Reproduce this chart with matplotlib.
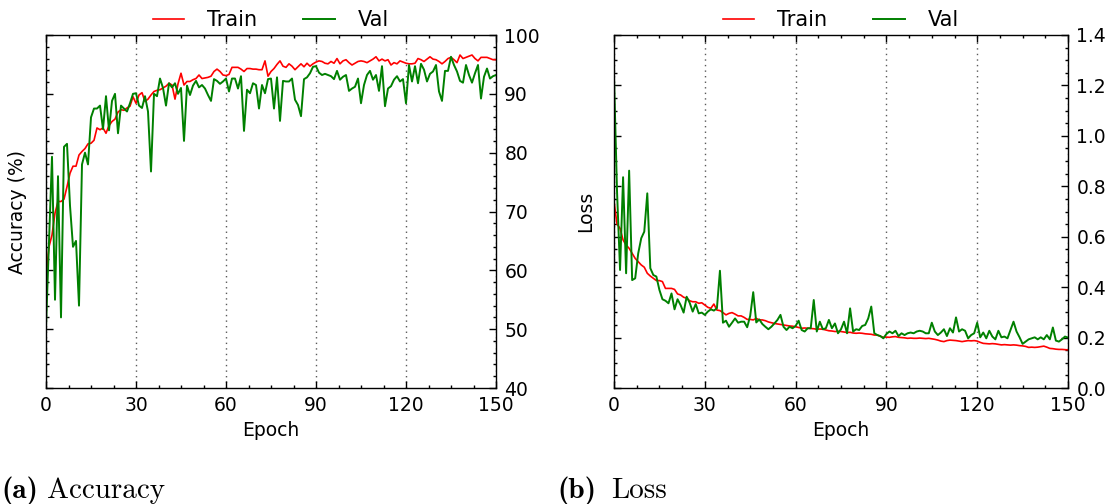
import numpy as np
import matplotlib
matplotlib.use("Agg")
import matplotlib.pyplot as plt
from matplotlib.ticker import MultipleLocator

plt.rcParams['font.family'] = ['DejaVu Sans']
plt.rcParams['mathtext.fontset'] = 'cm'

# ---- data (epochs 0..150) ----
train_acc = [59, 64, 66, 69.7, 71.7, 71.7, 72.1, 74.2, 76.5, 77.7,
             77.7, 79.6, 80.2, 80.7, 81.5, 81.6, 82.1, 84.2, 83.9, 84.2,
             83.3, 84.6, 85.3, 85.7, 86.9, 87.3, 87.2, 87.6, 87.9, 89.5,
             88.4, 89.8, 90.2, 88.7, 89.1, 89.8, 90.4, 90.6, 90.7, 91.0,
             91.3, 91.8, 91.5, 89.1, 91.7, 93.5, 91.5, 92.1, 92.1, 92.4,
             92.6, 93.2, 92.6, 92.7, 92.8, 93.0, 93.8, 94.2, 93.8, 93.2,
             93.1, 93.3, 94.5, 94.5, 94.5, 94.2, 93.8, 94.3, 94.3, 94.2,
             94.2, 94.1, 94.1, 95.6, 93.0, 93.8, 94.3, 95.0, 95.6, 94.7,
             94.5, 95.1, 94.7, 94.1, 94.6, 95.1, 94.6, 95.2, 94.7, 95.1,
             95.4, 95.6, 95.5, 95.2, 95.1, 95.5, 95.2, 96.0, 95.1, 95.6,
             95.8, 95.3, 94.9, 95.2, 95.5, 95.6, 95.5, 95.3, 95.6, 95.9,
             96.3, 95.6, 95.9, 95.6, 95.8, 94.9, 95.3, 95.1, 95.6, 95.4,
             95.2, 95.1, 95.1, 95.2, 96.0, 95.8, 95.5, 95.9, 96.3, 95.9,
             95.8, 95.5, 95.1, 95.5, 96.0, 96.2, 95.8, 95.3, 96.6, 96.0,
             96.2, 96.4, 96.6, 96.0, 95.6, 96.2, 96.2, 96.2, 96.0, 95.8,
             95.8]

val_acc = [50.4, 65, 79.3, 55, 76, 52, 81, 81.5, 71, 64,
           65, 54, 78, 80, 78, 86, 87.5, 87.5, 88, 84,
           89.6, 83.8, 88.8, 90, 83.3, 88, 87.5, 87, 88.4, 90,
           90.1, 88, 87.6, 89.6, 87, 76.8, 90, 89.6, 92.6, 91,
           88, 91.8, 91.1, 91.8, 90, 91, 82, 91.4, 89.8, 91.4,
           92.2, 91.1, 91.5, 90.9, 89.8, 88.8, 92.5, 92.2, 91.7, 92.1,
           92.6, 90.4, 92.6, 92.6, 90.9, 93, 83.7, 90.7, 90.1, 91.8,
           91.5, 87.5, 91.5, 90.1, 92.5, 92.6, 87.5, 92.8, 85.4, 92.2,
           92.1, 92.1, 92.6, 89, 88.1, 86.2, 92.5, 92.8, 93.5, 94.6,
           94.7, 93.6, 93.2, 93.4, 93.2, 93.0, 92.5, 93.9, 92.4, 92.9,
           93.2, 90.5, 90.9, 91.2, 92.6, 88.4, 91.5, 93.2, 93.9, 92.4,
           93.2, 90.5, 94.7, 87.9, 90.9, 91.3, 92.4, 93.0, 92.1, 92.5,
           88.4, 94.9, 92.1, 94.7, 91.8, 95.1, 94.1, 92.1, 93.4, 93.8,
           94.9, 90.4, 88.8, 93.9, 93.9, 96.3, 94.9, 93.8, 92.2, 91.9,
           94.9, 93.2, 91.9, 93.5, 94.9, 89.2, 92.9, 94.3, 92.6, 93.0,
           93.2]

train_loss = [0.74, 0.65, 0.633, 0.587, 0.567, 0.554, 0.534, 0.514, 0.501, 0.488,
              0.479, 0.455, 0.444, 0.435, 0.426, 0.426, 0.422, 0.395, 0.395, 0.395,
              0.391, 0.373, 0.369, 0.36, 0.356, 0.346, 0.342, 0.342, 0.336, 0.338,
              0.329, 0.32, 0.316, 0.333, 0.309, 0.307, 0.299, 0.29, 0.296, 0.299,
              0.293, 0.286, 0.286, 0.28, 0.272, 0.272, 0.27, 0.276, 0.27, 0.27,
              0.267, 0.262, 0.259, 0.256, 0.254, 0.252, 0.25, 0.248, 0.246, 0.245,
              0.243, 0.24, 0.237, 0.238, 0.237, 0.236, 0.235, 0.233, 0.234, 0.233,
              0.23, 0.227, 0.226, 0.224, 0.225, 0.224, 0.222, 0.22, 0.221, 0.218,
              0.217, 0.218, 0.217, 0.215, 0.214, 0.213, 0.21, 0.21, 0.205, 0.201,
              0.202, 0.201, 0.203, 0.204, 0.201, 0.2, 0.199, 0.197, 0.198, 0.197,
              0.197, 0.198, 0.197, 0.196, 0.197, 0.195, 0.193, 0.19, 0.186, 0.184,
              0.188, 0.19, 0.189, 0.188, 0.186, 0.184, 0.186, 0.188, 0.187, 0.188,
              0.186, 0.181, 0.177, 0.176, 0.175, 0.176, 0.175, 0.173, 0.171, 0.172,
              0.171, 0.17, 0.171, 0.17, 0.168, 0.167, 0.165, 0.161, 0.162, 0.161,
              0.162, 0.164, 0.166, 0.162, 0.157, 0.156, 0.154, 0.153, 0.153, 0.152,
              0.151]

val_loss = [1.235, 0.78, 0.468, 0.836, 0.455, 0.862, 0.428, 0.435, 0.534, 0.594,
            0.62, 0.772, 0.475, 0.448, 0.442, 0.389, 0.352, 0.346, 0.336, 0.375,
            0.312, 0.352, 0.329, 0.299, 0.362, 0.338, 0.303, 0.333, 0.296, 0.299,
            0.29, 0.303, 0.312, 0.307, 0.316, 0.465, 0.259, 0.267, 0.243, 0.259,
            0.276, 0.259, 0.263, 0.263, 0.241, 0.286, 0.38, 0.26, 0.272, 0.254,
            0.243, 0.233, 0.243, 0.256, 0.27, 0.29, 0.243, 0.23, 0.243, 0.237,
            0.246, 0.267, 0.23, 0.224, 0.237, 0.237, 0.349, 0.224, 0.263, 0.233,
            0.237, 0.27, 0.237, 0.256, 0.217, 0.233, 0.263, 0.217, 0.316, 0.224,
            0.233, 0.23, 0.246, 0.25, 0.276, 0.323, 0.217, 0.21, 0.206, 0.197,
            0.214, 0.224, 0.217, 0.227, 0.206, 0.217, 0.21, 0.217, 0.22, 0.217,
            0.224, 0.227, 0.224, 0.217, 0.217, 0.259, 0.224, 0.21, 0.22, 0.233,
            0.206, 0.237, 0.22, 0.28, 0.224, 0.233, 0.227, 0.197, 0.21, 0.217,
            0.259, 0.201, 0.22, 0.197, 0.227, 0.204, 0.193, 0.227, 0.201, 0.204,
            0.197, 0.23, 0.263, 0.224, 0.201, 0.175, 0.184, 0.193, 0.197, 0.201,
            0.193, 0.201, 0.193, 0.21, 0.193, 0.24, 0.188, 0.184, 0.193, 0.204,
            0.2]

xticks = [0, 30, 60, 90, 120, 150]


def style_axes(ax, ymin, ymax, ystep, yminor):
    ax.set_xlim(0, 150)
    ax.set_ylim(ymin, ymax)
    ax.set_xticks(xticks)
    ax.xaxis.set_minor_locator(MultipleLocator(7.5))
    ax.yaxis.set_major_locator(MultipleLocator(ystep))
    ax.yaxis.set_minor_locator(MultipleLocator(yminor))
    ax.tick_params(which='both', direction='in', top=True, bottom=True,
                   left=True, right=True, labelleft=False, labelright=True,
                   labelsize=13.5, width=1.0)
    ax.tick_params(which='major', length=5)
    ax.tick_params(which='minor', length=2.5)
    ax.tick_params(axis='x', pad=6)
    ax.tick_params(axis='y', pad=6)
    ax.xaxis.grid(True, linestyle=(0, (1, 3)), color='0.35', linewidth=1.0)
    for s in ax.spines.values():
        s.set_linewidth(1.0)
    ax.set_xlabel('Epoch', fontsize=13.5)


fig = plt.figure(figsize=(11.14, 5.04), dpi=100)

ax1 = fig.add_axes([46 / 1114, 116 / 504, 450 / 1114, 353 / 504])
ax1.plot(train_acc, color='#ff0000', lw=1.2, label='Train')
ax1.plot(val_acc, color='#008000', lw=1.4, label='Val')
style_axes(ax1, 40, 100, 10, 2)
ax1.set_ylabel('Accuracy (%)', fontsize=13.5)
ax1.yaxis.set_label_coords(-0.042, 0.5)

ax2 = fig.add_axes([614 / 1114, 116 / 504, 454 / 1114, 353 / 504])
ax2.plot(train_loss, color='#ff0000', lw=1.2, label='Train')
ax2.plot(val_loss, color='#008000', lw=1.4, label='Val')
style_axes(ax2, 0.0, 1.4, 0.2, 0.05)
ax2.set_ylabel('Loss', fontsize=13.5)
ax2.yaxis.set_label_coords(-0.042, 0.5)

for ax in (ax1, ax2):
    ax.legend(loc='lower center', bbox_to_anchor=(0.5, 1.008), ncol=2,
              frameon=False, fontsize=15, handlelength=1.5,
              handletextpad=1.1, columnspacing=2.2, borderaxespad=0.0,
              borderpad=0.1)

# sub-figure captions
cap_y = 0.012
fig.text(0.001, cap_y, '(a)', fontsize=21, family='cmb10')
fig.text(47 / 1114, cap_y, 'Accuracy', fontsize=21, family='cmr10')
fig.text(557 / 1114, cap_y, '(b)', fontsize=21, family='cmb10')
fig.text(611 / 1114, cap_y, 'Loss', fontsize=21, family='cmr10')

fig.savefig('out.png', dpi=100)
